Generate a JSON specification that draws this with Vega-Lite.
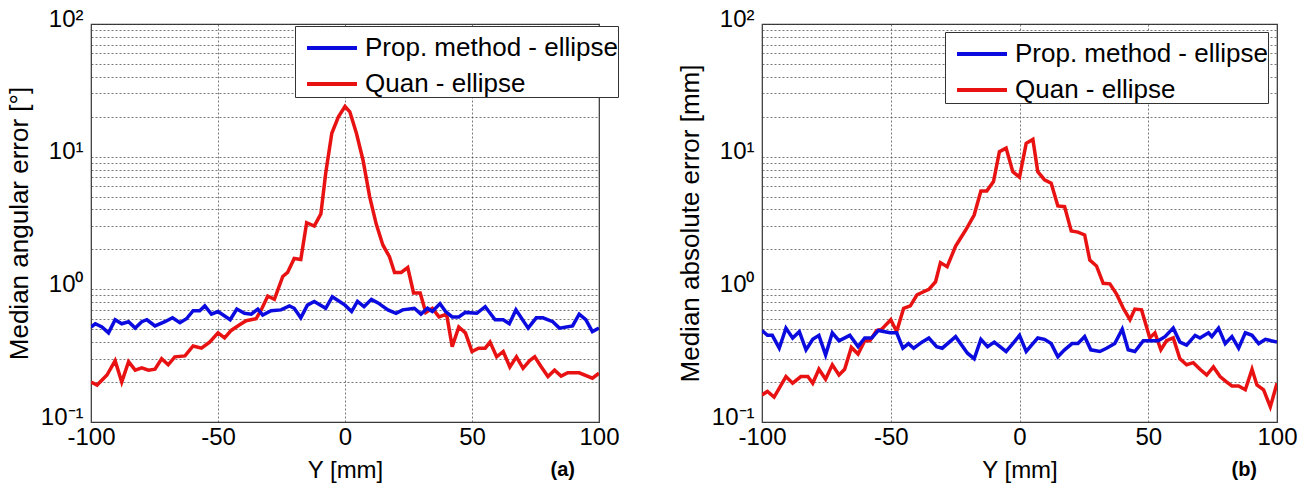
{
  "$schema": "https://vega.github.io/schema/vega-lite/v6.json",
  "padding": {"left": 5, "top": 6, "right": 5, "bottom": 5},
  "background": "white",
  "datasets": {
    "a": [
      {"x": -100, "v": 0.20, "s": "Quan - ellipse"}, {"x": -97.6, "v": 0.19, "s": "Quan - ellipse"}, {"x": -93.7, "v": 0.226, "s": "Quan - ellipse"}, {"x": -90.5, "v": 0.29, "s": "Quan - ellipse"}, {"x": -87.9, "v": 0.20, "s": "Quan - ellipse"}, {"x": -85.2, "v": 0.285, "s": "Quan - ellipse"}, {"x": -82.6, "v": 0.246, "s": "Quan - ellipse"}, {"x": -80, "v": 0.256, "s": "Quan - ellipse"}, {"x": -77.4, "v": 0.246, "s": "Quan - ellipse"}, {"x": -74.8, "v": 0.25, "s": "Quan - ellipse"}, {"x": -72.2, "v": 0.30, "s": "Quan - ellipse"}, {"x": -69.6, "v": 0.27, "s": "Quan - ellipse"}, {"x": -67, "v": 0.31, "s": "Quan - ellipse"}, {"x": -63, "v": 0.315, "s": "Quan - ellipse"}, {"x": -59.8, "v": 0.374, "s": "Quan - ellipse"}, {"x": -56.5, "v": 0.36, "s": "Quan - ellipse"}, {"x": -53.3, "v": 0.40, "s": "Quan - ellipse"}, {"x": -50, "v": 0.47, "s": "Quan - ellipse"}, {"x": -47.4, "v": 0.43, "s": "Quan - ellipse"}, {"x": -44.8, "v": 0.49, "s": "Quan - ellipse"}, {"x": -41.5, "v": 0.54, "s": "Quan - ellipse"}, {"x": -38.9, "v": 0.58, "s": "Quan - ellipse"}, {"x": -35, "v": 0.60, "s": "Quan - ellipse"}, {"x": -33, "v": 0.70, "s": "Quan - ellipse"}, {"x": -30.4, "v": 0.89, "s": "Quan - ellipse"}, {"x": -27.8, "v": 0.84, "s": "Quan - ellipse"}, {"x": -24.5, "v": 1.25, "s": "Quan - ellipse"}, {"x": -22.6, "v": 1.34, "s": "Quan - ellipse"}, {"x": -20, "v": 1.71, "s": "Quan - ellipse"}, {"x": -17.4, "v": 1.68, "s": "Quan - ellipse"}, {"x": -15.1, "v": 3.18, "s": "Quan - ellipse"}, {"x": -12.1, "v": 3.0, "s": "Quan - ellipse"}, {"x": -9.5, "v": 3.7, "s": "Quan - ellipse"}, {"x": -7.6, "v": 7.5, "s": "Quan - ellipse"}, {"x": -5.2, "v": 15, "s": "Quan - ellipse"}, {"x": -2.6, "v": 20, "s": "Quan - ellipse"}, {"x": 0, "v": 23.9, "s": "Quan - ellipse"}, {"x": 1.9, "v": 21.8, "s": "Quan - ellipse"}, {"x": 4.5, "v": 15, "s": "Quan - ellipse"}, {"x": 7.1, "v": 9.4, "s": "Quan - ellipse"}, {"x": 9.7, "v": 5.0, "s": "Quan - ellipse"}, {"x": 12.3, "v": 3.1, "s": "Quan - ellipse"}, {"x": 14.9, "v": 2.16, "s": "Quan - ellipse"}, {"x": 17.5, "v": 1.76, "s": "Quan - ellipse"}, {"x": 19.5, "v": 1.34, "s": "Quan - ellipse"}, {"x": 22.1, "v": 1.34, "s": "Quan - ellipse"}, {"x": 24.7, "v": 1.46, "s": "Quan - ellipse"}, {"x": 27, "v": 0.94, "s": "Quan - ellipse"}, {"x": 29.6, "v": 0.94, "s": "Quan - ellipse"}, {"x": 31.8, "v": 0.67, "s": "Quan - ellipse"}, {"x": 34.4, "v": 0.72, "s": "Quan - ellipse"}, {"x": 37, "v": 0.62, "s": "Quan - ellipse"}, {"x": 40, "v": 0.65, "s": "Quan - ellipse"}, {"x": 42.2, "v": 0.37, "s": "Quan - ellipse"}, {"x": 44.8, "v": 0.52, "s": "Quan - ellipse"}, {"x": 47.4, "v": 0.47, "s": "Quan - ellipse"}, {"x": 50, "v": 0.34, "s": "Quan - ellipse"}, {"x": 52.6, "v": 0.36, "s": "Quan - ellipse"}, {"x": 55.2, "v": 0.36, "s": "Quan - ellipse"}, {"x": 57.1, "v": 0.40, "s": "Quan - ellipse"}, {"x": 59.7, "v": 0.31, "s": "Quan - ellipse"}, {"x": 62.3, "v": 0.34, "s": "Quan - ellipse"}, {"x": 64.9, "v": 0.26, "s": "Quan - ellipse"}, {"x": 67.5, "v": 0.31, "s": "Quan - ellipse"}, {"x": 70.1, "v": 0.254, "s": "Quan - ellipse"}, {"x": 72.7, "v": 0.29, "s": "Quan - ellipse"}, {"x": 74.7, "v": 0.31, "s": "Quan - ellipse"}, {"x": 77.3, "v": 0.26, "s": "Quan - ellipse"}, {"x": 79.9, "v": 0.22, "s": "Quan - ellipse"}, {"x": 82.5, "v": 0.246, "s": "Quan - ellipse"}, {"x": 85.1, "v": 0.222, "s": "Quan - ellipse"}, {"x": 87.7, "v": 0.235, "s": "Quan - ellipse"}, {"x": 92.2, "v": 0.235, "s": "Quan - ellipse"}, {"x": 97.4, "v": 0.214, "s": "Quan - ellipse"}, {"x": 100, "v": 0.233, "s": "Quan - ellipse"},
      {"x": -100, "v": 0.52, "s": "Prop. method - ellipse"}, {"x": -98.3, "v": 0.55, "s": "Prop. method - ellipse"}, {"x": -95.7, "v": 0.52, "s": "Prop. method - ellipse"}, {"x": -93.1, "v": 0.47, "s": "Prop. method - ellipse"}, {"x": -90.5, "v": 0.59, "s": "Prop. method - ellipse"}, {"x": -87.9, "v": 0.55, "s": "Prop. method - ellipse"}, {"x": -85.2, "v": 0.57, "s": "Prop. method - ellipse"}, {"x": -82.6, "v": 0.51, "s": "Prop. method - ellipse"}, {"x": -80, "v": 0.57, "s": "Prop. method - ellipse"}, {"x": -78, "v": 0.59, "s": "Prop. method - ellipse"}, {"x": -74.8, "v": 0.53, "s": "Prop. method - ellipse"}, {"x": -70.9, "v": 0.57, "s": "Prop. method - ellipse"}, {"x": -67.9, "v": 0.61, "s": "Prop. method - ellipse"}, {"x": -65, "v": 0.56, "s": "Prop. method - ellipse"}, {"x": -62.4, "v": 0.60, "s": "Prop. method - ellipse"}, {"x": -59.8, "v": 0.69, "s": "Prop. method - ellipse"}, {"x": -57.2, "v": 0.69, "s": "Prop. method - ellipse"}, {"x": -55.2, "v": 0.75, "s": "Prop. method - ellipse"}, {"x": -52.6, "v": 0.65, "s": "Prop. method - ellipse"}, {"x": -50, "v": 0.68, "s": "Prop. method - ellipse"}, {"x": -45.2, "v": 0.59, "s": "Prop. method - ellipse"}, {"x": -42.6, "v": 0.71, "s": "Prop. method - ellipse"}, {"x": -39.6, "v": 0.66, "s": "Prop. method - ellipse"}, {"x": -36.9, "v": 0.65, "s": "Prop. method - ellipse"}, {"x": -34.3, "v": 0.71, "s": "Prop. method - ellipse"}, {"x": -32.4, "v": 0.64, "s": "Prop. method - ellipse"}, {"x": -29.1, "v": 0.69, "s": "Prop. method - ellipse"}, {"x": -25.2, "v": 0.70, "s": "Prop. method - ellipse"}, {"x": -21.9, "v": 0.75, "s": "Prop. method - ellipse"}, {"x": -20, "v": 0.72, "s": "Prop. method - ellipse"}, {"x": -17.4, "v": 0.61, "s": "Prop. method - ellipse"}, {"x": -14.8, "v": 0.76, "s": "Prop. method - ellipse"}, {"x": -12.1, "v": 0.81, "s": "Prop. method - ellipse"}, {"x": -7.6, "v": 0.72, "s": "Prop. method - ellipse"}, {"x": -5, "v": 0.88, "s": "Prop. method - ellipse"}, {"x": 0, "v": 0.76, "s": "Prop. method - ellipse"}, {"x": 2.6, "v": 0.68, "s": "Prop. method - ellipse"}, {"x": 4.9, "v": 0.81, "s": "Prop. method - ellipse"}, {"x": 7.5, "v": 0.74, "s": "Prop. method - ellipse"}, {"x": 10.4, "v": 0.84, "s": "Prop. method - ellipse"}, {"x": 13, "v": 0.79, "s": "Prop. method - ellipse"}, {"x": 16.9, "v": 0.70, "s": "Prop. method - ellipse"}, {"x": 20.1, "v": 0.66, "s": "Prop. method - ellipse"}, {"x": 22.7, "v": 0.70, "s": "Prop. method - ellipse"}, {"x": 27.3, "v": 0.72, "s": "Prop. method - ellipse"}, {"x": 29.9, "v": 0.65, "s": "Prop. method - ellipse"}, {"x": 32.5, "v": 0.72, "s": "Prop. method - ellipse"}, {"x": 34.4, "v": 0.68, "s": "Prop. method - ellipse"}, {"x": 37.4, "v": 0.78, "s": "Prop. method - ellipse"}, {"x": 39.6, "v": 0.68, "s": "Prop. method - ellipse"}, {"x": 42.2, "v": 0.62, "s": "Prop. method - ellipse"}, {"x": 44.8, "v": 0.62, "s": "Prop. method - ellipse"}, {"x": 47.4, "v": 0.67, "s": "Prop. method - ellipse"}, {"x": 51.9, "v": 0.66, "s": "Prop. method - ellipse"}, {"x": 55.2, "v": 0.74, "s": "Prop. method - ellipse"}, {"x": 59.1, "v": 0.59, "s": "Prop. method - ellipse"}, {"x": 62.3, "v": 0.59, "s": "Prop. method - ellipse"}, {"x": 64.7, "v": 0.55, "s": "Prop. method - ellipse"}, {"x": 67.3, "v": 0.70, "s": "Prop. method - ellipse"}, {"x": 72.1, "v": 0.51, "s": "Prop. method - ellipse"}, {"x": 75.3, "v": 0.61, "s": "Prop. method - ellipse"}, {"x": 77.9, "v": 0.61, "s": "Prop. method - ellipse"}, {"x": 81.8, "v": 0.57, "s": "Prop. method - ellipse"}, {"x": 84.4, "v": 0.51, "s": "Prop. method - ellipse"}, {"x": 89.6, "v": 0.53, "s": "Prop. method - ellipse"}, {"x": 92.2, "v": 0.65, "s": "Prop. method - ellipse"}, {"x": 94.8, "v": 0.59, "s": "Prop. method - ellipse"}, {"x": 97.4, "v": 0.48, "s": "Prop. method - ellipse"}, {"x": 100, "v": 0.51, "s": "Prop. method - ellipse"}
    ],
    "b": [
      {"x": -100, "v": 0.16, "s": "Quan - ellipse"}, {"x": -97.9, "v": 0.17, "s": "Quan - ellipse"}, {"x": -95.3, "v": 0.154, "s": "Quan - ellipse"}, {"x": -90.7, "v": 0.22, "s": "Quan - ellipse"}, {"x": -88.1, "v": 0.196, "s": "Quan - ellipse"}, {"x": -84.9, "v": 0.22, "s": "Quan - ellipse"}, {"x": -82.2, "v": 0.22, "s": "Quan - ellipse"}, {"x": -80.3, "v": 0.196, "s": "Quan - ellipse"}, {"x": -77.9, "v": 0.25, "s": "Quan - ellipse"}, {"x": -75.3, "v": 0.21, "s": "Quan - ellipse"}, {"x": -72.7, "v": 0.27, "s": "Quan - ellipse"}, {"x": -70.1, "v": 0.226, "s": "Quan - ellipse"}, {"x": -67.9, "v": 0.25, "s": "Quan - ellipse"}, {"x": -65.3, "v": 0.365, "s": "Quan - ellipse"}, {"x": -62.7, "v": 0.325, "s": "Quan - ellipse"}, {"x": -60.1, "v": 0.41, "s": "Quan - ellipse"}, {"x": -58.1, "v": 0.41, "s": "Quan - ellipse"}, {"x": -55.5, "v": 0.49, "s": "Quan - ellipse"}, {"x": -53.5, "v": 0.50, "s": "Quan - ellipse"}, {"x": -50, "v": 0.59, "s": "Quan - ellipse"}, {"x": -47.7, "v": 0.48, "s": "Quan - ellipse"}, {"x": -45, "v": 0.72, "s": "Quan - ellipse"}, {"x": -42.4, "v": 0.75, "s": "Quan - ellipse"}, {"x": -39.8, "v": 0.91, "s": "Quan - ellipse"}, {"x": -35.2, "v": 1.0, "s": "Quan - ellipse"}, {"x": -32.6, "v": 1.14, "s": "Quan - ellipse"}, {"x": -30.7, "v": 1.59, "s": "Quan - ellipse"}, {"x": -28.1, "v": 1.48, "s": "Quan - ellipse"}, {"x": -24.8, "v": 2.12, "s": "Quan - ellipse"}, {"x": -20.9, "v": 2.8, "s": "Quan - ellipse"}, {"x": -17.6, "v": 3.63, "s": "Quan - ellipse"}, {"x": -15, "v": 5.5, "s": "Quan - ellipse"}, {"x": -12.7, "v": 5.5, "s": "Quan - ellipse"}, {"x": -10.1, "v": 6.5, "s": "Quan - ellipse"}, {"x": -7.8, "v": 10.9, "s": "Quan - ellipse"}, {"x": -5.2, "v": 11.6, "s": "Quan - ellipse"}, {"x": -2.6, "v": 7.7, "s": "Quan - ellipse"}, {"x": 0, "v": 7.0, "s": "Quan - ellipse"}, {"x": 2.6, "v": 12.6, "s": "Quan - ellipse"}, {"x": 5.2, "v": 13.5, "s": "Quan - ellipse"}, {"x": 7.1, "v": 7.7, "s": "Quan - ellipse"}, {"x": 9.7, "v": 6.7, "s": "Quan - ellipse"}, {"x": 12.3, "v": 6.3, "s": "Quan - ellipse"}, {"x": 14.9, "v": 4.25, "s": "Quan - ellipse"}, {"x": 17.5, "v": 4.2, "s": "Quan - ellipse"}, {"x": 20.1, "v": 2.75, "s": "Quan - ellipse"}, {"x": 22.7, "v": 2.7, "s": "Quan - ellipse"}, {"x": 25.3, "v": 2.57, "s": "Quan - ellipse"}, {"x": 27.3, "v": 1.66, "s": "Quan - ellipse"}, {"x": 29.9, "v": 1.5, "s": "Quan - ellipse"}, {"x": 32.5, "v": 1.11, "s": "Quan - ellipse"}, {"x": 35.1, "v": 1.1, "s": "Quan - ellipse"}, {"x": 37.7, "v": 0.92, "s": "Quan - ellipse"}, {"x": 40.3, "v": 0.72, "s": "Quan - ellipse"}, {"x": 42.9, "v": 0.59, "s": "Quan - ellipse"}, {"x": 44.8, "v": 0.71, "s": "Quan - ellipse"}, {"x": 47.4, "v": 0.70, "s": "Quan - ellipse"}, {"x": 50.6, "v": 0.43, "s": "Quan - ellipse"}, {"x": 52.6, "v": 0.47, "s": "Quan - ellipse"}, {"x": 54.9, "v": 0.35, "s": "Quan - ellipse"}, {"x": 57.1, "v": 0.41, "s": "Quan - ellipse"}, {"x": 59.7, "v": 0.43, "s": "Quan - ellipse"}, {"x": 62.3, "v": 0.30, "s": "Quan - ellipse"}, {"x": 64.9, "v": 0.27, "s": "Quan - ellipse"}, {"x": 67.5, "v": 0.28, "s": "Quan - ellipse"}, {"x": 70.1, "v": 0.25, "s": "Quan - ellipse"}, {"x": 72.7, "v": 0.226, "s": "Quan - ellipse"}, {"x": 75.3, "v": 0.26, "s": "Quan - ellipse"}, {"x": 77.9, "v": 0.22, "s": "Quan - ellipse"}, {"x": 80.5, "v": 0.20, "s": "Quan - ellipse"}, {"x": 82.5, "v": 0.187, "s": "Quan - ellipse"}, {"x": 85.1, "v": 0.187, "s": "Quan - ellipse"}, {"x": 87.7, "v": 0.175, "s": "Quan - ellipse"}, {"x": 90.3, "v": 0.25, "s": "Quan - ellipse"}, {"x": 92.2, "v": 0.19, "s": "Quan - ellipse"}, {"x": 94.8, "v": 0.175, "s": "Quan - ellipse"}, {"x": 97.4, "v": 0.13, "s": "Quan - ellipse"}, {"x": 100, "v": 0.196, "s": "Quan - ellipse"},
      {"x": -100, "v": 0.49, "s": "Prop. method - ellipse"}, {"x": -97.9, "v": 0.45, "s": "Prop. method - ellipse"}, {"x": -96, "v": 0.45, "s": "Prop. method - ellipse"}, {"x": -93.3, "v": 0.36, "s": "Prop. method - ellipse"}, {"x": -90.7, "v": 0.51, "s": "Prop. method - ellipse"}, {"x": -88.1, "v": 0.43, "s": "Prop. method - ellipse"}, {"x": -85.5, "v": 0.48, "s": "Prop. method - ellipse"}, {"x": -82.9, "v": 0.35, "s": "Prop. method - ellipse"}, {"x": -80.3, "v": 0.42, "s": "Prop. method - ellipse"}, {"x": -77.9, "v": 0.45, "s": "Prop. method - ellipse"}, {"x": -75.3, "v": 0.32, "s": "Prop. method - ellipse"}, {"x": -72.7, "v": 0.47, "s": "Prop. method - ellipse"}, {"x": -70.1, "v": 0.41, "s": "Prop. method - ellipse"}, {"x": -65.9, "v": 0.45, "s": "Prop. method - ellipse"}, {"x": -62.7, "v": 0.37, "s": "Prop. method - ellipse"}, {"x": -60.1, "v": 0.43, "s": "Prop. method - ellipse"}, {"x": -57.4, "v": 0.43, "s": "Prop. method - ellipse"}, {"x": -54.8, "v": 0.49, "s": "Prop. method - ellipse"}, {"x": -50.3, "v": 0.47, "s": "Prop. method - ellipse"}, {"x": -47.7, "v": 0.47, "s": "Prop. method - ellipse"}, {"x": -45.3, "v": 0.36, "s": "Prop. method - ellipse"}, {"x": -43.1, "v": 0.39, "s": "Prop. method - ellipse"}, {"x": -41.1, "v": 0.36, "s": "Prop. method - ellipse"}, {"x": -37.9, "v": 0.40, "s": "Prop. method - ellipse"}, {"x": -35.2, "v": 0.43, "s": "Prop. method - ellipse"}, {"x": -32.2, "v": 0.37, "s": "Prop. method - ellipse"}, {"x": -30, "v": 0.36, "s": "Prop. method - ellipse"}, {"x": -24.8, "v": 0.44, "s": "Prop. method - ellipse"}, {"x": -20.2, "v": 0.33, "s": "Prop. method - ellipse"}, {"x": -17.6, "v": 0.30, "s": "Prop. method - ellipse"}, {"x": -15, "v": 0.42, "s": "Prop. method - ellipse"}, {"x": -12.4, "v": 0.37, "s": "Prop. method - ellipse"}, {"x": -9.8, "v": 0.40, "s": "Prop. method - ellipse"}, {"x": -5.2, "v": 0.34, "s": "Prop. method - ellipse"}, {"x": -2.6, "v": 0.39, "s": "Prop. method - ellipse"}, {"x": 0, "v": 0.45, "s": "Prop. method - ellipse"}, {"x": 2.6, "v": 0.34, "s": "Prop. method - ellipse"}, {"x": 7.1, "v": 0.43, "s": "Prop. method - ellipse"}, {"x": 9.7, "v": 0.42, "s": "Prop. method - ellipse"}, {"x": 12.3, "v": 0.39, "s": "Prop. method - ellipse"}, {"x": 14.9, "v": 0.31, "s": "Prop. method - ellipse"}, {"x": 17.5, "v": 0.35, "s": "Prop. method - ellipse"}, {"x": 20.4, "v": 0.39, "s": "Prop. method - ellipse"}, {"x": 22.7, "v": 0.39, "s": "Prop. method - ellipse"}, {"x": 25.3, "v": 0.44, "s": "Prop. method - ellipse"}, {"x": 27.7, "v": 0.35, "s": "Prop. method - ellipse"}, {"x": 31.2, "v": 0.34, "s": "Prop. method - ellipse"}, {"x": 33.8, "v": 0.36, "s": "Prop. method - ellipse"}, {"x": 37, "v": 0.39, "s": "Prop. method - ellipse"}, {"x": 39.9, "v": 0.50, "s": "Prop. method - ellipse"}, {"x": 42.2, "v": 0.35, "s": "Prop. method - ellipse"}, {"x": 44.8, "v": 0.34, "s": "Prop. method - ellipse"}, {"x": 48.1, "v": 0.41, "s": "Prop. method - ellipse"}, {"x": 51.3, "v": 0.41, "s": "Prop. method - ellipse"}, {"x": 53.9, "v": 0.41, "s": "Prop. method - ellipse"}, {"x": 56.5, "v": 0.44, "s": "Prop. method - ellipse"}, {"x": 59.7, "v": 0.51, "s": "Prop. method - ellipse"}, {"x": 62.3, "v": 0.40, "s": "Prop. method - ellipse"}, {"x": 64.9, "v": 0.38, "s": "Prop. method - ellipse"}, {"x": 68.2, "v": 0.45, "s": "Prop. method - ellipse"}, {"x": 70.1, "v": 0.43, "s": "Prop. method - ellipse"}, {"x": 73.4, "v": 0.47, "s": "Prop. method - ellipse"}, {"x": 74.7, "v": 0.44, "s": "Prop. method - ellipse"}, {"x": 77.3, "v": 0.51, "s": "Prop. method - ellipse"}, {"x": 79.9, "v": 0.39, "s": "Prop. method - ellipse"}, {"x": 82.5, "v": 0.44, "s": "Prop. method - ellipse"}, {"x": 85.1, "v": 0.36, "s": "Prop. method - ellipse"}, {"x": 87.7, "v": 0.47, "s": "Prop. method - ellipse"}, {"x": 90.3, "v": 0.45, "s": "Prop. method - ellipse"}, {"x": 92.9, "v": 0.39, "s": "Prop. method - ellipse"}, {"x": 95.5, "v": 0.42, "s": "Prop. method - ellipse"}, {"x": 100, "v": 0.40, "s": "Prop. method - ellipse"}
    ]
  },
  "spacing": 56,
  "resolve": {"scale": {"color": "independent", "y": "independent"}, "legend": {"color": "independent"}},
  "hconcat": [
    {
      "width": 508,
      "height": 398,
      "data": {"name": "a"},
      "title": {"text": "(a)", "orient": "bottom", "anchor": "end", "offset": -22, "dx": -44, "fontSize": 20, "fontWeight": "bold", "font": "Liberation Sans", "color": "black"},
      "mark": {"type": "line", "strokeWidth": 3.5, "clip": true},
      "encoding": {
        "x": {"field": "x", "type": "quantitative", "title": "Y [mm]", "scale": {"domain": [-100, 100], "nice": false}, "axis": {"values": [-100, -50, 0, 50, 100], "labelExpr": "datum.value < 0 ? '-' + abs(datum.value) : '' + datum.value"}},
        "y": {"field": "v", "type": "quantitative", "title": "Median angular error [°]", "scale": {"type": "log", "domain": [0.1, 100], "nice": false}, "axis": {"values": [0.1, 0.2, 0.3, 0.4, 0.5, 0.6, 0.7, 0.8, 0.9, 1, 2, 3, 4, 5, 6, 7, 8, 9, 10, 20, 30, 40, 50, 60, 70, 80, 90, 100], "labelExpr": "datum.value == 100 ? '10²' : datum.value == 10 ? '10¹' : datum.value == 1 ? '10⁰' : datum.value == 0.1 ? '10⁻¹' : ''"}},
        "color": {"field": "s", "type": "nominal", "scale": {"domain": ["Prop. method - ellipse", "Quan - ellipse"], "range": ["#0b0be0", "#e81212"]}, "legend": {"legendX": 204, "legendY": 2}},
        "order": {"field": "x", "type": "quantitative"}
      }
    },
    {
      "width": 515,
      "height": 398,
      "data": {"name": "b"},
      "title": {"text": "(b)", "orient": "bottom", "anchor": "end", "offset": -22, "dx": -40, "fontSize": 20, "fontWeight": "bold", "font": "Liberation Sans", "color": "black"},
      "mark": {"type": "line", "strokeWidth": 3.5, "clip": true},
      "encoding": {
        "x": {"field": "x", "type": "quantitative", "title": "Y [mm]", "scale": {"domain": [-100, 100], "nice": false}, "axis": {"values": [-100, -50, 0, 50, 100], "labelExpr": "datum.value < 0 ? '-' + abs(datum.value) : '' + datum.value"}},
        "y": {"field": "v", "type": "quantitative", "title": "Median absolute error [mm]", "scale": {"type": "log", "domain": [0.1, 100], "nice": false}, "axis": {"values": [0.1, 0.2, 0.3, 0.4, 0.5, 0.6, 0.7, 0.8, 0.9, 1, 2, 3, 4, 5, 6, 7, 8, 9, 10, 20, 30, 40, 50, 60, 70, 80, 90, 100], "labelExpr": "datum.value == 100 ? '10²' : datum.value == 10 ? '10¹' : datum.value == 1 ? '10⁰' : datum.value == 0.1 ? '10⁻¹' : ''"}},
        "color": {"field": "s", "type": "nominal", "scale": {"domain": ["Prop. method - ellipse", "Quan - ellipse"], "range": ["#0b0be0", "#e81212"]}, "legend": {"legendX": 183, "legendY": 8}},
        "order": {"field": "x", "type": "quantitative"}
      }
    }
  ],
  "config": {
    "font": "Liberation Sans",
    "view": {"stroke": "#333333", "strokeWidth": 1.2},
    "axis": {
      "grid": true,
      "gridColor": "#444444",
      "gridDash": [2, 2],
      "gridWidth": 0.8,
      "gridOpacity": 0.9,
      "domain": false,
      "ticks": false,
      "labelFont": "Liberation Sans",
      "labelFontSize": 24,
      "labelColor": "black",
      "titleFont": "Liberation Sans",
      "titleFontWeight": "normal",
      "titleColor": "black"
    },
    "axisX": {"labelPadding": 3, "titlePadding": 9, "labelFlush": false, "titleFontSize": 24},
    "axisY": {"labelPadding": 8, "titlePadding": 8, "labelFlush": false, "labelOffset": -5, "titleFontSize": 26},
    "legend": {
      "orient": "none",
      "direction": "vertical",
      "title": null,
      "strokeColor": "#333333",
      "fillColor": "white",
      "padding": 0,
      "symbolType": "M-1.25,0H1.25",
      "symbolStrokeWidth": 4,
      "symbolSize": 1600,
      "symbolOffset": 15,
      "labelFont": "Liberation Sans",
      "labelFontSize": 26,
      "labelColor": "black",
      "labelOffset": 11,
      "labelLimit": 400,
      "labelExpr": "datum.label + '\u00a0\u00a0'",
      "rowPadding": 1
    }
  }
}
